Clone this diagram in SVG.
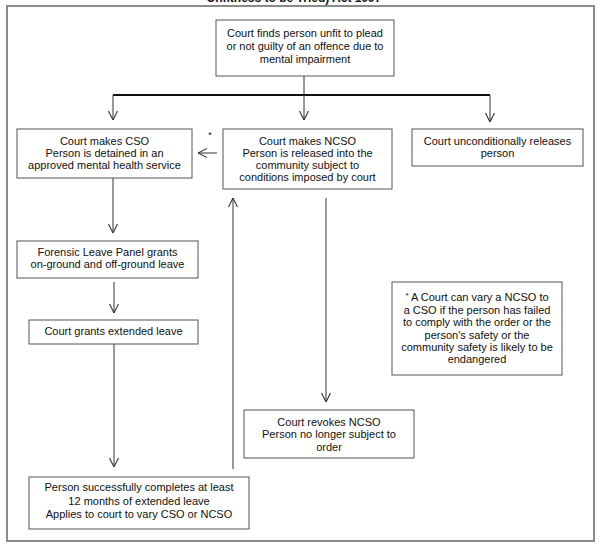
<svg xmlns="http://www.w3.org/2000/svg" width="602" height="548" viewBox="0 0 602 548">
<style>
  .box { fill: #ffffff; stroke: #555555; stroke-width: 1; }
  .t { font-family: "Liberation Sans", Arial, sans-serif; font-size: 11px; fill: #111111; text-anchor: middle; }
  .c { stroke: #333333; stroke-width: 1; fill: none; }
  .title { font-family: "Liberation Sans", Arial, sans-serif; font-size: 12px; font-weight: bold; fill: #111111; text-anchor: middle; }
</style>
<defs>
  <marker id="arr" viewBox="0 0 10 10" refX="10" refY="5" markerWidth="9" markerHeight="10" markerUnits="userSpaceOnUse" orient="auto">
    <path d="M0,0 L10,5 L0,10" fill="none" stroke="#333333" stroke-width="1.2"/>
  </marker>
</defs>
<rect width="602" height="548" fill="#ffffff"/>
<text class="title" x="294" y="2">Unfitness to be Tried) Act 1997</text>
<rect x="7" y="6" width="587" height="535" fill="none" stroke="#8a8a8a" stroke-width="2"/>

<g id="connectors">
  <line class="c" x1="304" y1="76" x2="304" y2="95"/>
  <line x1="113" y1="95" x2="490" y2="95" stroke="#111111" stroke-width="2"/>
  <line class="c" x1="113" y1="95" x2="113" y2="120" marker-end="url(#arr)"/>
  <line class="c" x1="304" y1="95" x2="304" y2="120" marker-end="url(#arr)"/>
  <line class="c" x1="490" y1="95" x2="490" y2="122" marker-end="url(#arr)"/>
  <line class="c" x1="217" y1="153" x2="198" y2="153" marker-end="url(#arr)"/>
  <line class="c" x1="113" y1="178" x2="113" y2="233" marker-end="url(#arr)"/>
  <line class="c" x1="114" y1="282" x2="114" y2="313" marker-end="url(#arr)"/>
  <line class="c" x1="114" y1="344" x2="114" y2="467" marker-end="url(#arr)"/>
  <line class="c" x1="233" y1="469" x2="233" y2="198" marker-end="url(#arr)"/>
  <line class="c" x1="326" y1="198" x2="326" y2="402" marker-end="url(#arr)"/>
  <text class="t" x="210" y="138" style="font-size:9px">*</text>
</g>

<g id="n-finds">
  <rect class="box" x="216" y="20" width="178" height="56"/>
  <text class="t" x="305" y="37">Court finds person unfit to plead</text>
  <text class="t" x="305" y="50">or not guilty of an offence due to</text>
  <text class="t" x="305" y="63">mental impairment</text>
</g>

<g id="n-cso">
  <rect class="box" x="17" y="129" width="175" height="49"/>
  <text class="t" x="104.5" y="145">Court makes CSO</text>
  <text class="t" x="104.5" y="157">Person is detained in an</text>
  <text class="t" x="104.5" y="169">approved mental health service</text>
</g>

<g id="n-ncso">
  <rect class="box" x="223" y="129" width="169" height="60"/>
  <text class="t" x="307.5" y="145">Court makes NCSO</text>
  <text class="t" x="307.5" y="157">Person is released into the</text>
  <text class="t" x="307.5" y="169">community subject to</text>
  <text class="t" x="307.5" y="181">conditions imposed by court</text>
</g>

<g id="n-uncond">
  <rect class="box" x="412" y="129" width="171" height="37"/>
  <text class="t" x="497.5" y="145">Court unconditionally releases</text>
  <text class="t" x="497.5" y="157">person</text>
</g>

<g id="n-forensic">
  <rect class="box" x="17" y="241" width="181" height="37"/>
  <text class="t" x="107.5" y="256">Forensic Leave Panel grants</text>
  <text class="t" x="107.5" y="268">on-ground and off-ground leave</text>
</g>

<g id="n-extended">
  <rect class="box" x="29" y="320" width="169" height="24"/>
  <text class="t" x="113.5" y="335">Court grants extended leave</text>
</g>

<g id="n-completes">
  <rect class="box" x="29" y="477" width="220" height="52"/>
  <text class="t" x="139" y="491">Person successfully completes at least</text>
  <text class="t" x="139" y="505">12 months of extended leave</text>
  <text class="t" x="139" y="518">Applies to court to vary CSO or NCSO</text>
</g>

<g id="n-revokes">
  <rect class="box" x="244" y="410" width="170" height="48"/>
  <text class="t" x="329" y="426">Court revokes NCSO</text>
  <text class="t" x="329" y="438">Person no longer subject to</text>
  <text class="t" x="329" y="451">order</text>
</g>

<g id="n-note">
  <rect class="box" x="392" y="282" width="170" height="93"/>
  <text class="t" x="477" y="301"><tspan style="font-size:8px" dy="-3">*</tspan><tspan dy="3"> A Court can vary a NCSO to</tspan></text>
  <text class="t" x="477" y="314">a CSO if the person has failed</text>
  <text class="t" x="477" y="326">to comply with the order or the</text>
  <text class="t" x="477" y="339">person's safety or the</text>
  <text class="t" x="477" y="351">community safety is likely to be</text>
  <text class="t" x="477" y="363">endangered</text>
</g>
</svg>
